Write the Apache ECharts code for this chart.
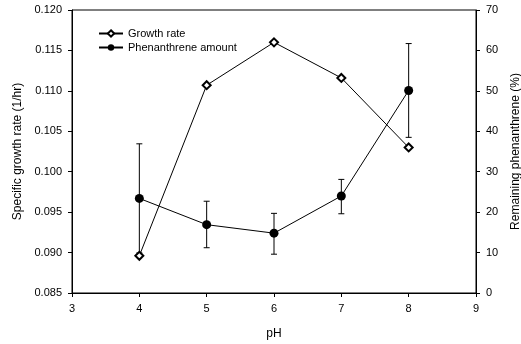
<!DOCTYPE html>
<html><head><meta charset="utf-8">
<script src="https://cdn.jsdelivr.net/npm/echarts@6/dist/echarts.min.js"></script>
<style>html,body{margin:0;padding:0;background:#fff}#c{width:521px;height:344px}</style>
</head><body><div id="c"></div>
<script>
const pH = [4, 5, 6, 7, 8];
const growthRate = [0.0896, 0.1107, 0.1160, 0.1116, 0.1030];
const phenAmount = [23.4, 16.9, 14.8, 24.0, 50.1];
const phenLow = [9.9, 11.2, 9.6, 19.6, 38.5];
const phenHigh = [36.9, 22.7, 19.7, 28.1, 61.7];

const font = 'Liberation Sans, Arial, sans-serif';
const chart = echarts.init(document.getElementById('c'), null, {renderer: 'canvas'});
chart.setOption({
  animation: false,
  backgroundColor: '#fff',
  grid: {left: 72, right: 45, top: 10, bottom: 51, show: true, borderColor: '#000', borderWidth: 1,
         containLabel: false, outerBoundsMode: 'none'},
  legend: {
    left: 93, top: 23, orient: 'vertical', itemGap: 3, itemWidth: 24, itemHeight: 8,
    textStyle: {fontFamily: font, fontSize: 11, color: '#000', padding: [0, 0, 0, 0]},
    data: ['Growth rate', 'Phenanthrene amount']
  },
  xAxis: {
    type: 'value', min: 3, max: 9, interval: 1, name: 'pH', nameLocation: 'middle', nameGap: 35,
    nameTextStyle: {fontFamily: font, fontSize: 12, color: '#000'},
    axisLine: {lineStyle: {color: '#000'}}, axisTick: {show: true, length: 4, lineStyle: {color: '#000'}},
    axisLabel: {fontFamily: font, fontSize: 11, color: '#000', margin: 10}, splitLine: {show: false}
  },
  yAxis: [{
    type: 'value', min: 0.085, max: 0.120, interval: 0.005, name: 'Specific growth rate (1/hr)',
    nameLocation: 'middle', nameGap: 47, nameRotate: 90,
    nameTextStyle: {fontFamily: font, fontSize: 12, color: '#000'},
    axisLine: {show: true, lineStyle: {color: '#000'}}, axisTick: {show: true, length: 4, lineStyle: {color: '#000'}},
    axisLabel: {fontFamily: font, fontSize: 11, color: '#000', margin: 10, formatter: v => v.toFixed(3)},
    splitLine: {show: false}
  }, {
    type: 'value', min: 0, max: 70, interval: 10, name: 'Remaining phenanthrene (%)',
    nameLocation: 'middle', nameGap: 34, nameRotate: 90,
    nameTextStyle: {fontFamily: font, fontSize: 12, color: '#000'},
    axisLine: {show: true, lineStyle: {color: '#000'}}, axisTick: {show: true, length: 4, lineStyle: {color: '#000'}},
    axisLabel: {fontFamily: font, fontSize: 11, color: '#000', margin: 10},
    splitLine: {show: false}
  }],
  series: [{
    name: 'Growth rate', type: 'line', yAxisIndex: 0,
    data: pH.map((x, i) => [x, growthRate[i]]),
    symbol: 'diamond', symbolSize: 8,
    lineStyle: {color: '#000', width: 1},
    itemStyle: {color: '#fff', borderColor: '#000', borderWidth: 2}
  }, {
    name: 'Phenanthrene amount', type: 'line', yAxisIndex: 1,
    data: pH.map((x, i) => [x, phenAmount[i]]),
    symbol: 'circle', symbolSize: 9,
    lineStyle: {color: '#000', width: 1},
    itemStyle: {color: '#000', borderColor: '#000', borderWidth: 0},
    z: 3
  }, {
    name: 'err', type: 'custom', yAxisIndex: 1,
    data: pH.map((x, i) => [x, phenLow[i], phenHigh[i]]),
    renderItem: function (params, api) {
      const x = api.value(0);
      const lo = api.coord([x, api.value(1)]);
      const hi = api.coord([x, api.value(2)]);
      const w = 3;
      const st = {stroke: '#000', lineWidth: 1};
      return {type: 'group', children: [
        {type: 'line', shape: {x1: hi[0], y1: hi[1], x2: lo[0], y2: lo[1]}, style: st},
        {type: 'line', shape: {x1: hi[0] - w, y1: hi[1], x2: hi[0] + w, y2: hi[1]}, style: st},
        {type: 'line', shape: {x1: lo[0] - w, y1: lo[1], x2: lo[0] + w, y2: lo[1]}, style: st}
      ]};
    },
    z: 2
  }]
});
</script></body></html>
